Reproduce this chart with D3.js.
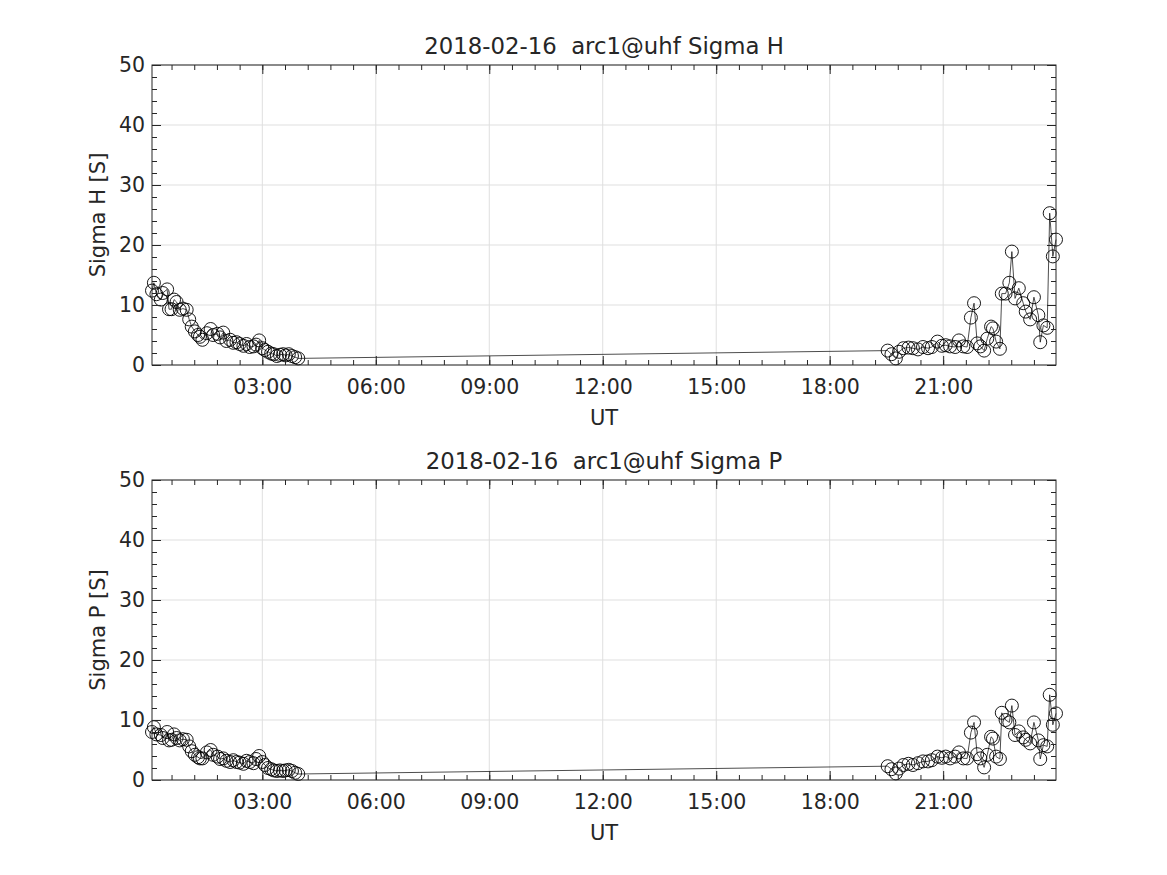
<!DOCTYPE html>
<html>
<head>
<meta charset="utf-8">
<script src="https://cdn.jsdelivr.net/npm/d3@7"></script>
<style>
  body { margin: 0; background: #fff; }
  svg text { font-family: "DejaVu Sans", sans-serif; fill: #262626; }
</style>
</head>
<body>
<svg id="chart" width="1167" height="875"></svg>
<script>
// sample times (UT, 2018-02-16)
const times = [
  "00:05","00:08","00:12","00:19","00:22","00:29","00:32","00:36","00:40","00:44",
  "00:49","00:54","01:00","01:04","01:08","01:13","01:18","01:21","01:25","01:32",
  "01:38","01:42","01:49","01:53","01:58","02:03","02:09","02:14","02:19","02:24",
  "02:30","02:35","02:40","02:46","02:50","02:55","03:00","03:04","03:09","03:14",
  "03:18","03:23","03:28","03:33","03:37","03:42","03:47","03:52","03:57",
  "19:32","19:38","19:45","19:50","19:57","20:05","20:12","20:20","20:28","20:36",
  "20:42","20:51","20:58","21:04","21:11","21:19","21:25","21:32","21:38","21:44",
  "21:49","21:54","21:59","22:05","22:10","22:16","22:19","22:24","22:30","22:33",
  "22:39","22:45","22:49","22:54","23:00","23:07","23:11","23:18","23:24","23:31",
  "23:34","23:39","23:45","23:49","23:54","23:59"
];

const sigmaH = [
  12.4, 13.7, 11.8, 10.9, 12.0, 12.6, 9.3, 9.3, 10.9, 10.5,
  9.2, 9.4, 9.2, 7.6, 6.4, 5.6, 5.0, 4.7, 4.2, 5.3,
  6.0, 5.0, 5.2, 4.6, 5.4, 4.0, 4.2, 3.7, 3.8, 3.5,
  3.2, 3.5, 3.0, 3.1, 3.4, 4.1, 2.8, 2.5, 2.2, 1.9,
  1.8, 1.5, 1.7, 1.8, 1.6, 1.8, 1.5, 1.3, 1.1,
  2.4, 1.8, 1.1, 2.2, 2.8, 2.9, 2.8, 2.6, 3.0, 2.8,
  3.0, 3.9, 3.2, 3.3, 3.1, 3.0, 4.1, 3.1, 3.0, 7.9,
  10.3, 3.6, 3.1, 2.4, 4.4, 6.4, 6.1, 3.9, 2.7, 11.9,
  11.9, 13.7, 18.9, 11.1, 12.8, 10.3, 8.9, 7.6, 11.3, 8.3,
  3.8, 6.6, 6.2, 25.3, 18.1, 20.9
];

const sigmaP = [
  8.0, 8.8, 7.6, 7.5, 7.0, 8.0, 6.6, 6.7, 7.6, 7.0,
  6.6, 6.8, 6.7, 5.6, 4.8, 4.2, 3.8, 3.6, 3.6, 4.6,
  5.0, 4.2, 3.9, 3.5, 3.6, 3.2, 3.0, 3.3, 3.0, 2.9,
  2.7, 3.2, 3.0, 2.8, 3.5, 4.0, 3.0, 2.5, 2.0, 1.8,
  1.6, 1.5, 1.6, 1.5, 1.6, 1.7, 1.5, 1.2, 1.0,
  2.3, 1.8, 1.1, 1.9, 2.5, 2.7, 2.5, 2.8, 3.1, 3.1,
  3.3, 3.9, 3.7, 3.9, 3.6, 3.9, 4.6, 3.6, 3.6, 7.9,
  9.6, 4.3, 3.6, 2.1, 4.2, 7.2, 6.9, 3.9, 3.5, 11.2,
  10.0, 9.6, 12.4, 7.5, 8.1, 7.1, 6.7, 6.1, 9.6, 6.6,
  3.5, 5.8, 5.6, 14.2, 9.2, 11.1
];

const yTicks = [0, 10, 20, 30, 40, 50];
const xTickHours = [3, 6, 9, 12, 15, 18, 21];

const day = Date.UTC(2018, 1, 16);
function parseTime(s) {
    const [h, m] = s.split(':').map(Number);
    return new Date(day + (h * 60 + m) * 60000);
}
const dates = times.map(parseTime);

const svg = d3.select('#chart');
const left = 152, right = 1056;
const ink = '#262626';
const tickFont = 20.5, labelFont = 21, titleFont = 22.8;

const x = d3.scaleUtc()
    .domain(d3.extent(dates))
    .range([left, right]);

const xMajor = xTickHours.map(h => new Date(day + h * 3600000));
// minor ticks every 36 minutes (5 per 3h)
const xMinor = d3.range(0, 24 * 60 + 1, 36)
    .map(m => new Date(day + m * 60000))
    .filter(d => d >= x.domain()[0] && d <= x.domain()[1]);
const yMinor = d3.range(0, 51, 2);

function drawPanel(top, bottom, values, title, ylabel) {
    const y = d3.scaleLinear().domain([0, 50]).range([bottom, top]);
    const g = svg.append('g');

    // grid
    g.append('g').selectAll('line.gx')
        .data(xMajor).enter().append('line')
        .attr('x1', d => x(d)).attr('x2', d => x(d))
        .attr('y1', top).attr('y2', bottom)
        .attr('stroke', '#dfdfdf').attr('stroke-width', 1);
    g.append('g').selectAll('line.gy')
        .data(yTicks).enter().append('line')
        .attr('x1', left).attr('x2', right)
        .attr('y1', d => y(d)).attr('y2', d => y(d))
        .attr('stroke', '#dfdfdf').attr('stroke-width', 1);

    // data line + markers
    const pts = dates.map((d, i) => ({ date: d, v: values[i] }));
    const line = d3.line().x(d => x(d.date)).y(d => y(d.v));
    g.append('path')
        .datum(pts)
        .attr('fill', 'none')
        .attr('stroke', '#000')
        .attr('stroke-width', 0.7)
        .attr('d', line);
    g.append('g').selectAll('circle')
        .data(pts).enter().append('circle')
        .attr('cx', d => x(d.date))
        .attr('cy', d => y(d.v))
        .attr('r', 6.5)
        .attr('fill', 'none')
        .attr('stroke', '#000')
        .attr('stroke-width', 0.9);

    // axes (ticks inward, box with mirrored ticks)
    const styleAxis = sel => {
        sel.select('.domain').remove();
        sel.selectAll('line').attr('stroke', ink);
        sel.selectAll('text').attr('font-size', tickFont).attr('fill', ink)
            .style('font-family', '"DejaVu Sans", sans-serif');
    };
    const fmt = d3.utcFormat('%H:%M');

    g.append('g').attr('transform', `translate(0,${bottom})`)
        .call(d3.axisBottom(x).tickValues(xMajor).tickFormat(fmt).tickSize(-9).tickPadding(14))
        .call(styleAxis);
    g.append('g').attr('transform', `translate(0,${bottom})`)
        .call(d3.axisBottom(x).tickValues(xMinor).tickFormat('').tickSize(-5))
        .call(styleAxis);
    g.append('g').attr('transform', `translate(0,${top})`)
        .call(d3.axisTop(x).tickValues(xMajor).tickFormat('').tickSize(-9))
        .call(styleAxis);
    g.append('g').attr('transform', `translate(0,${top})`)
        .call(d3.axisTop(x).tickValues(xMinor).tickFormat('').tickSize(-5))
        .call(styleAxis);

    g.append('g').attr('transform', `translate(${left},0)`)
        .call(d3.axisLeft(y).tickValues(yTicks).tickSize(-9).tickPadding(7))
        .call(styleAxis);
    g.append('g').attr('transform', `translate(${left},0)`)
        .call(d3.axisLeft(y).tickValues(yMinor).tickFormat('').tickSize(-5))
        .call(styleAxis);
    g.append('g').attr('transform', `translate(${right},0)`)
        .call(d3.axisRight(y).tickValues(yTicks).tickFormat('').tickSize(-9))
        .call(styleAxis);
    g.append('g').attr('transform', `translate(${right},0)`)
        .call(d3.axisRight(y).tickValues(yMinor).tickFormat('').tickSize(-5))
        .call(styleAxis);

    // box
    g.append('rect')
        .attr('x', left).attr('y', top)
        .attr('width', right - left).attr('height', bottom - top)
        .attr('fill', 'none').attr('stroke', ink).attr('stroke-width', 1);

    // labels
    g.append('text')
        .attr('x', (left + right) / 2).attr('y', top - 11)
        .attr('text-anchor', 'middle').attr('font-size', titleFont)
        .style('white-space', 'pre')
        .text(title);
    g.append('text')
        .attr('x', (left + right) / 2).attr('y', bottom + 60)
        .attr('text-anchor', 'middle').attr('font-size', labelFont)
        .text('UT');
    g.append('text')
        .attr('transform', `translate(105,${(top + bottom) / 2}) rotate(-90)`)
        .attr('text-anchor', 'middle').attr('font-size', labelFont)
        .text(ylabel);
}

drawPanel(65, 365, sigmaH, '2018-02-16  arc1@uhf Sigma H', 'Sigma H [S]');
drawPanel(480, 780, sigmaP, '2018-02-16  arc1@uhf Sigma P', 'Sigma P [S]');
</script>
</body>
</html>
